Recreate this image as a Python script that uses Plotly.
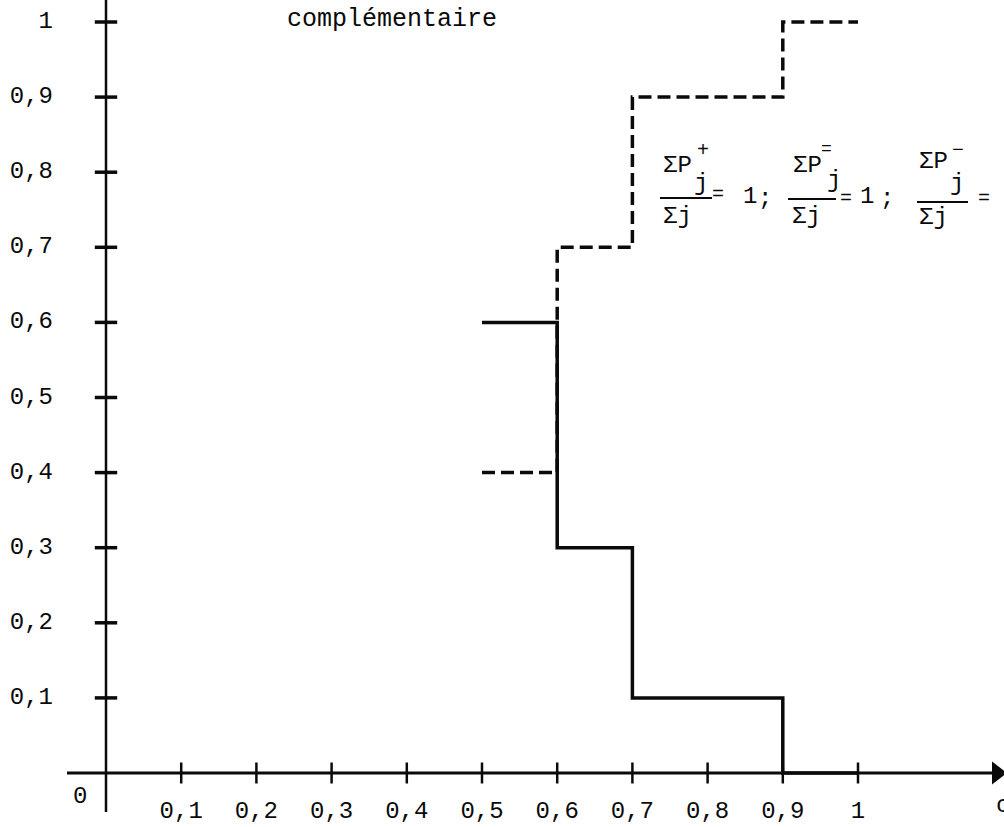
import plotly.graph_objects as go

# ---- data ----
solid_x = [0.5, 0.6, 0.7, 0.9, 1.0]
solid_y = [0.6, 0.3, 0.1, 0.0, 0.0]
dashed_x = [0.5, 0.6, 0.7, 0.9, 1.0]
dashed_y = [0.4, 0.7, 0.9, 1.0, 1.0]

x_ticks = [0.1, 0.2, 0.3, 0.4, 0.5, 0.6, 0.7, 0.8, 0.9, 1.0]
x_tick_labels = ["0,1", "0,2", "0,3", "0,4", "0,5", "0,6", "0,7", "0,8", "0,9", "1"]
y_ticks = [0.1, 0.2, 0.3, 0.4, 0.5, 0.6, 0.7, 0.8, 0.9, 1.0]
y_tick_labels = ["0,1", "0,2", "0,3", "0,4", "0,5", "0,6", "0,7", "0,8", "0,9", "1"]

W, H = 1004, 827
X0PX, SX = 106, 752.0   # pixel of x=0, pixels per unit
Y0PX, SY = 773, 751.0

def dx(px):
    return (px - X0PX) / SX

def dy(py):
    return (Y0PX - py) / SY

FONT = "Liberation Mono"
BLACK = "#0a0a0a"

fig = go.Figure()

# axes
fig.add_trace(go.Scatter(x=[dx(67), dx(992)], y=[0, 0], mode="lines",
                         line=dict(color=BLACK, width=3), hoverinfo="skip"))
fig.add_trace(go.Scatter(x=[0, 0], y=[dy(812), dy(-10)], mode="lines",
                         line=dict(color=BLACK, width=2.5), hoverinfo="skip"))
fig.add_trace(go.Scatter(x=[dx(997)], y=[0], mode="markers",
                         marker=dict(symbol="triangle-right", size=20, color=BLACK),
                         hoverinfo="skip"))
# tick marks
fig.add_trace(go.Scatter(x=x_ticks, y=[0] * len(x_ticks), mode="markers",
                         marker=dict(symbol="line-ns", size=15,
                                     line=dict(color=BLACK, width=2.5)),
                         hoverinfo="skip"))
fig.add_trace(go.Scatter(x=[0] * len(y_ticks), y=y_ticks, mode="markers",
                         marker=dict(symbol="line-ew", size=16,
                                     line=dict(color=BLACK, width=3.5)),
                         hoverinfo="skip"))
# tick labels
fig.add_trace(go.Scatter(x=x_ticks, y=[dy(812)] * len(x_ticks), mode="text",
                         text=x_tick_labels, textposition="middle center",
                         textfont=dict(family=FONT, size=24, color=BLACK),
                         hoverinfo="skip"))
fig.add_trace(go.Scatter(x=[dx(53)] * len(y_ticks), y=y_ticks, mode="text",
                         text=y_tick_labels, textposition="middle left",
                         textfont=dict(family=FONT, size=24, color=BLACK),
                         hoverinfo="skip"))

# step curves
fig.add_trace(go.Scatter(x=solid_x, y=solid_y, mode="lines", line_shape="hv",
                         line=dict(color=BLACK, width=3.5), hoverinfo="skip"))
fig.add_trace(go.Scatter(x=dashed_x, y=dashed_y, mode="lines", line_shape="hv",
                         line=dict(color=BLACK, width=3.5, dash="13px,6px"),
                         hoverinfo="skip"))

def ann(text, xpx, ypx, size=24, xanchor="center"):
    fig.add_annotation(text=text, x=xpx / W, y=1 - ypx / H, xref="paper", yref="paper",
                       xanchor=xanchor, yanchor="middle", showarrow=False,
                       font=dict(family=FONT, size=size, color=BLACK))

def bar(x0, x1, ypx):
    fig.add_shape(type="line", xref="paper", yref="paper",
                  x0=x0 / W, x1=x1 / W, y0=1 - ypx / H, y1=1 - ypx / H,
                  line=dict(color=BLACK, width=2))

ann("0", 80, 796)
ann("c", 994, 805, xanchor="left")
ann("complémentaire", 392, 19, size=25)

# formula
ann("ΣP", 677, 166); ann("+", 703, 150, size=20); ann("j", 701, 184)
bar(660, 712, 198); ann("=", 718, 194, size=20); ann("Σj", 677, 216)
ann("1", 750, 196); ann(";", 765, 198)

ann("ΣP", 807, 166); ann("=", 826, 149, size=18); ann("j", 834, 181)
bar(788, 836, 199); ann("=", 846, 198, size=20); ann("Σj", 806, 216)
ann("1", 867, 196); ann(";", 887, 198)

ann("ΣP", 933, 161); ann("−", 958, 150, size=20); ann("j", 957, 184)
bar(917, 968, 202); ann("Σj", 933, 218); ann("=", 984, 198, size=20)

fig.update_layout(
    width=W, height=H, margin=dict(l=0, r=0, t=0, b=0),
    paper_bgcolor="white", plot_bgcolor="white", showlegend=False,
    xaxis=dict(range=[dx(0), dx(W)], visible=False, fixedrange=True),
    yaxis=dict(range=[dy(H), dy(0)], visible=False, fixedrange=True),
)

fig.write_html("out.html",
               config={"displayModeBar": False, "staticPlot": True},
               post_script="document.body.style.margin='0px';"
                           "document.body.style.overflow='hidden';")
